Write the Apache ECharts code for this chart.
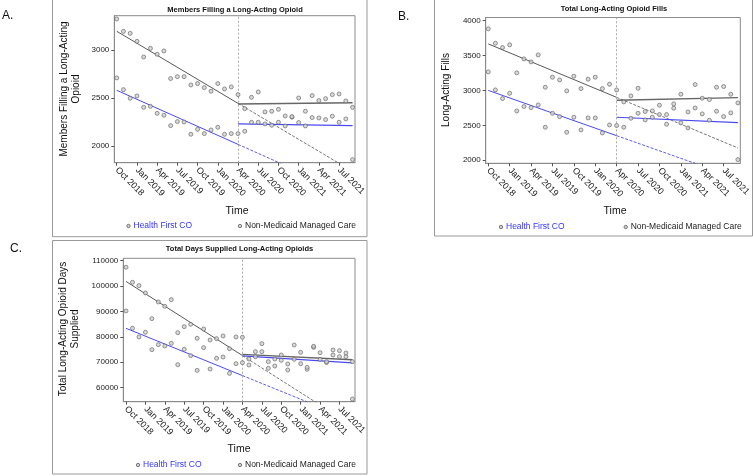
<!DOCTYPE html>
<html><head><meta charset="utf-8">
<script src="https://cdn.jsdelivr.net/npm/echarts@6/dist/echarts.min.js"></script>
<style>html,body{margin:0;padding:0;background:#fff}#c{width:753px;height:476px}</style>
</head><body><div id="c"></div>
<script>
// ---------- data ----------
const monthLabels = ['Oct 2018','Nov 2018','Dec 2018','Jan 2019','Feb 2019','Mar 2019','Apr 2019','May 2019','Jun 2019','Jul 2019','Aug 2019','Sep 2019','Oct 2019','Nov 2019','Dec 2019','Jan 2020','Feb 2020','Mar 2020','Apr 2020','May 2020','Jun 2020','Jul 2020','Aug 2020','Sep 2020','Oct 2020','Nov 2020','Dec 2020','Jan 2021','Feb 2021','Mar 2021','Apr 2021','May 2021','Jun 2021','Jul 2021','Aug 2021','Sep 2021'];
const tickLabels = ['Oct 2018','Jan 2019','Apr 2019','Jul 2019','Oct 2019','Jan 2020','Apr 2020','Jul 2020','Oct 2020','Jan 2021','Apr 2021','Jul 2021'];
const interruptionMonth = 'Apr 2020';

// A. Members filling a long-acting opioid
const aTicks = [2000, 2500, 3000];
const aNM = [3323,3194,3173,3090,2927,3017,2955,2990,2702,2722,2722,2636,2650,2608,2570,2650,2594,2615,2535,2389,2507,2563,2355,2362,2382,2313,2306,2500,2362,2525,2473,2493,2535,2542,2469,2403];
const aHF = [2709,2587,2497,2521,2403,2413,2340,2320,2212,2254,2250,2122,2174,2129,2167,2195,2122,2129,2129,2153,2247,2247,2230,2216,2247,2209,2300,2244,2209,2296,2292,2275,2310,2247,2282,1858];
const aTrendNMPre = [3195, 2444, 1736];   // Oct 2018, Apr 2020, Sep 2021 (projection)
const aTrendHFPre = [2580, 2017, 1484];
const aTrendNMPost = [2437, 2451];        // Apr 2020, Sep 2021
const aTrendHFPost = [2230, 2213];

// B. Total long-acting opioid fills
const bTicks = [2000, 2500, 3000, 3500, 4000];
const bNM = [3881,3675,3613,3652,3251,3451,3408,3508,3045,3189,3150,2993,3203,3026,3160,3189,3026,3088,3007,2835,2921,3031,2697,2707,2788,2654,2807,2945,2692,3084,2888,2869,3045,3055,2945,2821];
const bHF = [3265,3007,2883,2959,2706,2769,2754,2792,2473,2673,2625,2401,2616,2434,2606,2606,2391,2506,2497,2473,2601,2673,2578,2616,2654,2516,2745,2535,2463,2749,2664,2573,2702,2625,2678,2010];
const bTrendNMPre = [3665, 2900, 2177];
const bTrendHFPre = [3000, 2352, 1740];
const bTrendNMPost = [2859, 2897];
const bTrendHFPost = [2616, 2540];

// C. Total days supplied long-acting opioids
const cTicks = [60000, 70000, 80000, 90000, 100000, 110000];
const cNM = [107380,101470,100160,97270,87170,93730,92020,94650,81660,84020,84940,79430,83100,78770,79300,80350,75360,79960,79830,71300,74180,77330,70250,71300,72870,69330,76800,73920,68010,76280,73790,70250,74840,74580,73660,70250];
const cHF = [90190,83370,79960,81800,74970,76940,76410,77460,69070,75100,72610,66830,75760,67360,71560,72080,65650,69460,69850,68930,72210,74180,67620,68540,70770,66970,71170,69460,67230,75880,71170,69900,72870,72210,72210,55550];
const cTrendNMPre = [101800, 72640, 45100];
const cTrendHFPre = [83370, 64770, 47210];
const cTrendNMPost = [73100, 71000];
const cTrendHFPost = [72500, 69800];

// ---------- build ----------
const BLUE = '#4a4af0';
const GRAY = '#5a5a5a';
const FONT = '"Liberation Sans", Arial, sans-serif';
const iBreak = monthLabels.indexOf(interruptionMonth);
const iLast = monthLabels.length - 1;
const tickIdx = tickLabels.map(t => monthLabels.indexOf(t));

const panels = [
  {rect:{left:114.3, top:15.7, width:240.7, height:147}, xr:[-0.36, 35.36], yr:[1826, 3357], ticks:aTicks, nm:aNM, hf:aHF,
   nmPre:aTrendNMPre, hfPre:aTrendHFPre, nmPost:aTrendNMPost, hfPost:aTrendHFPost},
  {rect:{left:485.7, top:17.5, width:256, height:145.8}, xr:[-0.36, 35.34], yr:[1957, 4043], ticks:bTicks, nm:bNM, hf:bHF,
   nmPre:bTrendNMPre, hfPre:bTrendHFPre, nmPost:bTrendNMPost, hfPost:bTrendHFPost},
  {rect:{left:123.3, top:258.3, width:231.7, height:143.4}, xr:[-0.42, 35.4], yr:[54500, 110900], ticks:cTicks, nm:cNM, hf:cHF,
   nmPre:cTrendNMPre, hfPre:cTrendHFPre, nmPost:cTrendNMPost, hfPost:cTrendHFPost}
];

const grid = [], xAxis = [], yAxis = [], series = [];
panels.forEach((p, g) => {
  grid.push(Object.assign({show:true, borderColor:'#8a8a8a', borderWidth:1, containLabel:false}, p.rect));
  xAxis.push({type:'value', gridIndex:g, min:p.xr[0], max:p.xr[1],
    axisLine:{show:true, onZero:false, lineStyle:{color:'#8a8a8a'}},
    axisTick:{show:true, length:3, customValues:tickIdx, lineStyle:{color:'#555'}},
    axisLabel:{customValues:tickIdx, rotate:-45, fontSize:9, color:'#222', fontFamily:FONT, margin:6,
      formatter:v => monthLabels[Math.round(v)]},
    splitLine:{show:false}});
  yAxis.push({type:'value', gridIndex:g, min:p.yr[0], max:p.yr[1],
    axisLine:{show:true, onZero:false, lineStyle:{color:'#8a8a8a'}},
    axisTick:{show:true, length:3, customValues:p.ticks, lineStyle:{color:'#555'}},
    axisLabel:{customValues:p.ticks, fontSize:8, color:'#222', fontFamily:FONT, margin:5,
      formatter:v => String(Math.round(v))},
    splitLine:{show:false}});
  const line = (name, pts, color, width, type, extra) => Object.assign({
    type:'line', name, xAxisIndex:g, yAxisIndex:g, data:pts, symbol:'none', clip:true, silent:true,
    lineStyle:{color, width, type}, z:2, animation:false}, extra || {});
  series.push(line('NM pre', [[0,p.nmPre[0]],[iBreak,p.nmPre[1]]], GRAY, 1, 'solid', {
    markLine:{silent:true, symbol:['none','none'], label:{show:false},
      lineStyle:{color:'#aaaaaa', type:[2,2], width:1}, data:[{xAxis:iBreak}]}}));
  series.push(line('NM proj', [[iBreak,p.nmPre[1]],[iLast,p.nmPre[2]]], '#666', 0.9, [3,1.5]));
  series.push(line('HF pre', [[0,p.hfPre[0]],[iBreak,p.hfPre[1]]], BLUE, 1, 'solid'));
  series.push(line('HF proj', [[iBreak,p.hfPre[1]],[iLast,p.hfPre[2]]], BLUE, 0.9, [3,1.5]));
  series.push(line('NM post', [[iBreak,p.nmPost[0]],[iLast,p.nmPost[1]]], '#666', 1.4, 'solid'));
  series.push(line('HF post', [[iBreak,p.hfPost[0]],[iLast,p.hfPost[1]]], BLUE, 1.2, 'solid'));
  const sc = (name, vals) => ({type:'scatter', name, xAxisIndex:g, yAxisIndex:g,
    data:vals.map((v,i)=>[i,v]), symbol:'circle', symbolSize:4, z:5, animation:false,
    itemStyle:{color:'#d0d0d0', borderColor:'#5e5e5e', borderWidth:0.8}});
  series.push(sc('Health First CO', p.hf));
  series.push(sc('Non-Medicaid Managed Care', p.nm));
});

const txt = (x, y, text, opts) => ({type:'text', x, y, silent:true, rotation:(opts&&opts.rot)||0,
  style:Object.assign({text, fill:'#111', font:'10.5px '+FONT, textAlign:'center', textVerticalAlign:'middle'}, (opts&&opts.style)||{})});
const dot = (x, y) => ({type:'circle', shape:{cx:x, cy:y, r:1.7}, silent:true, style:{fill:'#d0d0d0', stroke:'#5e5e5e', lineWidth:0.8}});
const box = (x, y, w, h) => ({type:'rect', shape:{x, y, width:w, height:h}, silent:true, style:{fill:'none', stroke:'#999', lineWidth:1}});
const legend = (y, x1, x2) => [
  dot(x1, y), txt(x1+5, y, 'Health First CO', {style:{textAlign:'left', fill:'#3535ff', font:'8.5px '+FONT}}),
  dot(x2, y), txt(x2+5, y, 'Non-Medicaid Managed Care', {style:{textAlign:'left', fill:'#222', font:'8.5px '+FONT}})
];
const titleFont = 'bold 7.5px '+FONT;
const graphic = [
  box(52.5, -2, 314.5, 238.7), box(52.5, 240.5, 314.5, 233.5), box(434.5, -2, 318, 238),
  txt(2, 16, 'A.', {style:{textAlign:'left', font:'12px '+FONT}}),
  txt(398, 17, 'B.', {style:{textAlign:'left', font:'12px '+FONT}}),
  txt(10, 249, 'C.', {style:{textAlign:'left', font:'12px '+FONT}}),
  txt(235, 9.5, 'Members Filling a Long-Acting Opioid', {style:{font:titleFont}}),
  txt(614, 8.5, 'Total Long-Acting Opioid Fills', {style:{font:titleFont}}),
  txt(239.5, 249, 'Total Days Supplied Long-Acting Opioids', {style:{font:titleFont}}),
  txt(70, 89, 'Members Filling a Long-Acting\nOpioid', {rot:Math.PI/2, style:{lineHeight:12, font:'10px '+FONT}}),
  txt(446.7, 90, 'Long-Acting Fills', {rot:Math.PI/2, style:{font:'10px '+FONT}}),
  txt(69.5, 329, 'Total Long-Acting Opioid Days\nSupplied', {rot:Math.PI/2, style:{lineHeight:12, font:'10px '+FONT}}),
  txt(237, 211, 'Time'), txt(615, 211, 'Time'), txt(239, 449, 'Time'),
  ...legend(226, 128.5, 240), ...legend(227, 501, 625.7), ...legend(465, 138, 240)
];

const chart = echarts.init(document.getElementById('c'), null, {renderer:'canvas'});
chart.setOption({animation:false, backgroundColor:'#fff', grid, xAxis, yAxis, series, graphic});
</script></body></html>
